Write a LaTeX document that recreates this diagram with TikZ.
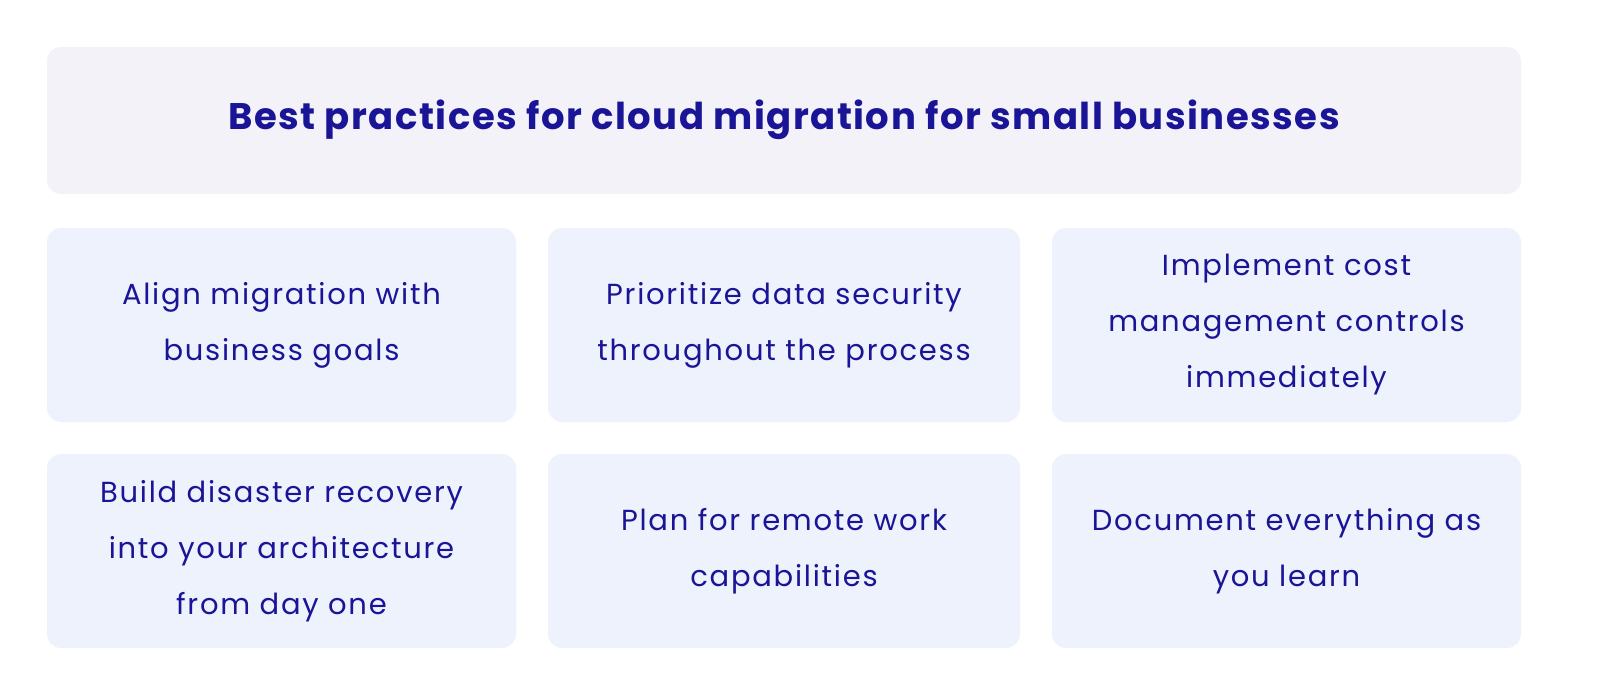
\documentclass[tikz,border=0pt]{standalone}
\usepackage{fontspec}
\setmainfont{Poppins}
\newfontfamily\bodyf[LetterSpace=6]{Poppins}
\newfontfamily\titlef[LetterSpace=4]{Poppins}
\definecolor{txt}{HTML}{1A1496}
\definecolor{tbg}{HTML}{F3F2F8}
\definecolor{bbg}{HTML}{EEF2FD}
\begin{document}
\begin{tikzpicture}[x=1pt,y=-1pt,
  card/.style={fill=bbg,rounded corners=14pt},
  lbl/.style={text=txt,align=center,font=\bodyf\fontsize{29}{56}\selectfont}]
\fill[tbg,rounded corners=14pt] (47,47) rectangle (1521,194);
\node[text=txt,font=\titlef\fontsize{37}{40}\selectfont\bfseries] (title) at (784,120) {Best practices for cloud migration for small businesses};
\foreach \x/\w in {47/516,548/1020,1052/1521}{
  \fill[card] (\x,228) rectangle (\w,422);
  \fill[card] (\x,454) rectangle (\w,648);
}
\node[lbl] (a) at (281.5,325) {Align migration with\\business goals};
\node[lbl] (b) at (784,325) {Prioritize data security\\throughout the process};
\node[lbl] (c) at (1286.5,325) {Implement cost\\management controls\\immediately};
\node[lbl] (d) at (281.5,551) {Build disaster recovery\\into your architecture\\from day one};
\node[lbl] (e) at (784,551) {Plan for remote work\\capabilities};
\node[lbl] (f) at (1286.5,551) {Document everything as\\you learn};
\pgfresetboundingbox
\useasboundingbox (0,0) rectangle (1610,698);
\end{tikzpicture}
\end{document}
